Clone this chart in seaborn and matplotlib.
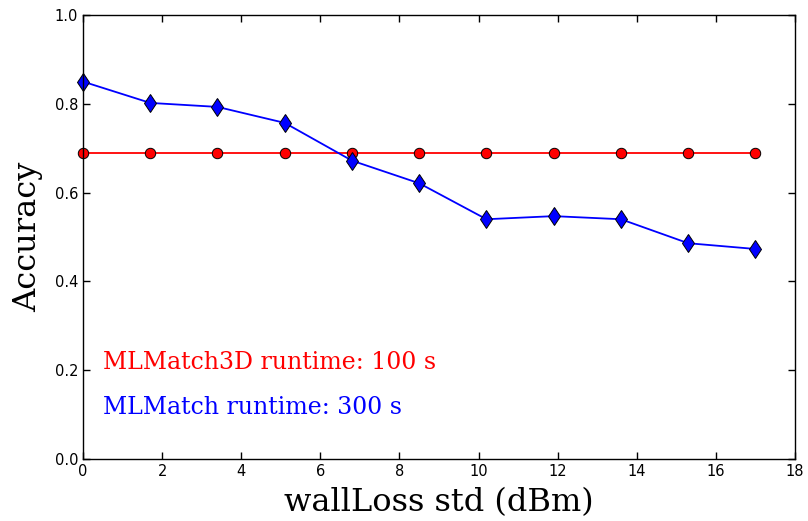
import matplotlib
matplotlib.use("Agg")
import matplotlib.pyplot as plt
import seaborn as sns
import pandas as pd

# wall loss standard deviation (dBm)
wall_loss_std = [0.0, 1.7, 3.4, 5.1, 6.8, 8.5, 10.2, 11.9, 13.6, 15.3, 17.0]
acc_mlmatch3d = [0.69, 0.69, 0.69, 0.69, 0.69, 0.69, 0.69, 0.69, 0.69, 0.69, 0.69]
acc_mlmatch = [0.85, 0.802, 0.793, 0.757, 0.672, 0.621, 0.540, 0.547, 0.540, 0.486, 0.473]

x_ticks = [0, 2, 4, 6, 8, 10, 12, 14, 16, 18]
y_ticks = [0.0, 0.2, 0.4, 0.6, 0.8, 1.0]

sns.set_style("ticks")
plt.rcParams["font.family"] = ["DejaVu Sans"]
plt.rcParams["text.color"] = "black"
plt.rcParams["axes.labelcolor"] = "black"

df3d = pd.DataFrame({"std": wall_loss_std, "acc": acc_mlmatch3d})
dfml = pd.DataFrame({"std": wall_loss_std, "acc": acc_mlmatch})

fig = plt.figure(figsize=(8.08, 5.21), dpi=100)
ax = fig.add_axes([83 / 808, 1 - 459 / 521, (795 - 83) / 808, (459 - 15) / 521])

sns.lineplot(data=df3d, x="std", y="acc", ax=ax, color="red", linewidth=1.3,
             marker="o", markersize=7.5, markerfacecolor="red",
             markeredgecolor="black", markeredgewidth=0.7, clip_on=False)
sns.lineplot(data=dfml, x="std", y="acc", ax=ax, color="blue", linewidth=1.3,
             marker="d", markersize=9.5, markerfacecolor="blue",
             markeredgecolor="black", markeredgewidth=0.7, clip_on=False)

ax.set_xlim(0, 18)
ax.set_ylim(0, 1.0)
ax.set_xticks(x_ticks)
ax.set_yticks(y_ticks)
ax.set_xticklabels([str(t) for t in x_ticks])
ax.set_yticklabels([f"{t:.1f}" for t in y_ticks])
ax.tick_params(direction="in", top=True, right=True, length=5, width=1,
               labelsize=10.5, colors="black")
for s in ax.spines.values():
    s.set_linewidth(1.0)
    s.set_color("black")

ax.set_xlabel("wallLoss std (dBm)", family="DejaVu Serif", fontsize=23,
              labelpad=6, color="black")
ax.set_ylabel("Accuracy", family="DejaVu Serif", fontsize=23,
              labelpad=8, color="black")

ax.text(0.5, 0.218, "MLMatch3D runtime: 100 s", color="red",
        family="DejaVu Serif", fontsize=17, va="center", ha="left")
ax.text(0.5, 0.117, "MLMatch runtime: 300 s", color="blue",
        family="DejaVu Serif", fontsize=17, va="center", ha="left")

fig.savefig("out.png", dpi=100)
